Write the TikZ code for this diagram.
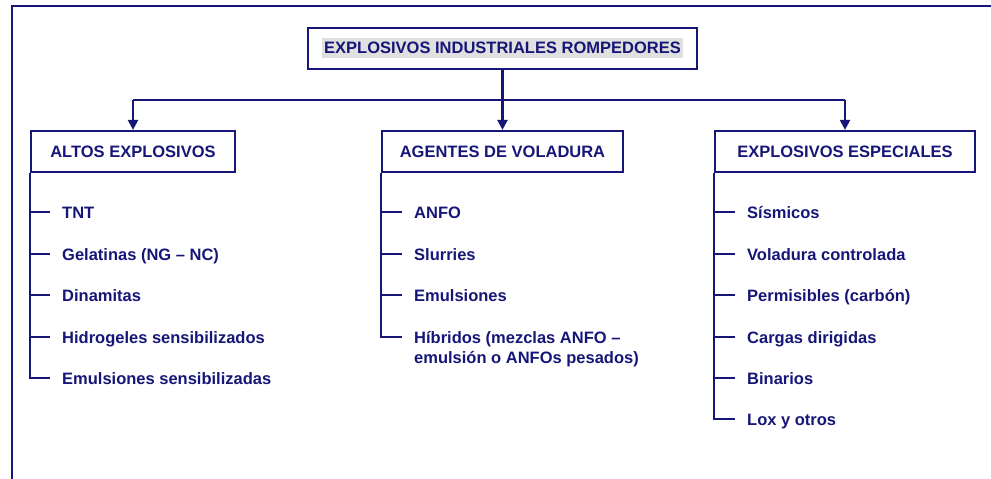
\documentclass[tikz,border=0pt]{standalone}
\usepackage{fontspec}
\setmainfont{Liberation Sans}
\usetikzlibrary{arrows.meta,calc}
\definecolor{navyc}{RGB}{22,22,120}
\definecolor{hlgray}{RGB}{224,224,224}
\begin{document}
\begin{tikzpicture}[x=1pt,y=-1pt,
  every node/.style={text=navyc,font=\fontsize{16.5}{20}\selectfont\bfseries},
  ln/.style={draw=navyc,line width=2.2pt},
  arr/.style={ln,-{Triangle[width=10pt,length=10pt]}},
  catbox/.style={draw=navyc,line width=2.2pt,minimum height=41pt,inner sep=0pt},
  item/.style={anchor=base west,inner sep=0pt}]
\useasboundingbox (0,0) rectangle (991,479);
% outer frame
\coordinate (ftl) at (12,6);
\draw[ln] (991,6) -- (ftl) -- (12,479);
% top box
\node[fill=hlgray,inner xsep=2pt,inner ysep=4pt] (toptext) at (502.5,48) {EXPLOSIVOS INDUSTRIALES ROMPEDORES};
\node[catbox,minimum width=389pt] (top) at (502.5,48.5) {};
% category boxes
\node[catbox,minimum width=204pt] (altos) at (133,151.5) {ALTOS EXPLOSIVOS};
\node[catbox,minimum width=241pt] (agentes) at (502.5,151.5) {AGENTES DE VOLADURA};
\node[catbox,minimum width=260pt] (esp) at (845,151.5) {EXPLOSIVOS ESPECIALES};
% bus
\coordinate (bus) at (502.5,100);
\draw[ln] (altos.north |- bus) -- (esp.north |- bus);
\draw[arr] (top.south) -- (agentes.north);
\draw[arr] (altos.north |- bus) -- (altos.north);
\draw[arr] (esp.north |- bus) -- (esp.north);
% left items
\node[item] (a1) at (62,218) {TNT};
\node[item] (a2) at (62,260) {Gelatinas (NG – NC)};
\node[item] (a3) at (62,301) {Dinamitas};
\node[item] (a4) at (62,343) {Hidrogeles sensibilizados};
\node[item] (a5) at (62,384) {Emulsiones sensibilizadas};
\draw[ln] (altos.south west) -- ($(altos.south west |- a5.base)+(0,-6)$) -- ($(a5.base west)+(-12,-6)$);
\foreach \n in {a1,a2,a3,a4}
  \draw[ln] ($(altos.south west |- \n.base)+(0,-6)$) -- ($(\n.base west)+(-12,-6)$);
% middle items
\node[item] (b1) at (414,218) {ANFO};
\node[item] (b2) at (414,260) {Slurries};
\node[item] (b3) at (414,301) {Emulsiones};
\node[item] (b4) at (414,343) {Híbridos (mezclas ANFO –};
\node[item] (b4b) at (414,363) {emulsión o ANFOs pesados)};
\draw[ln] (agentes.south west) -- ($(agentes.south west |- b4.base)+(0,-6)$) -- ($(b4.base west)+(-12,-6)$);
\foreach \n in {b1,b2,b3}
  \draw[ln] ($(agentes.south west |- \n.base)+(0,-6)$) -- ($(\n.base west)+(-12,-6)$);
% right items
\node[item] (c1) at (747,218) {Sísmicos};
\node[item] (c2) at (747,260) {Voladura controlada};
\node[item] (c3) at (747,301) {Permisibles (carbón)};
\node[item] (c4) at (747,343) {Cargas dirigidas};
\node[item] (c5) at (747,384) {Binarios};
\node[item] (c6) at (747,425) {Lox y otros};
\draw[ln] (esp.south west) -- ($(esp.south west |- c6.base)+(0,-6)$) -- ($(c6.base west)+(-12,-6)$);
\foreach \n in {c1,c2,c3,c4,c5}
  \draw[ln] ($(esp.south west |- \n.base)+(0,-6)$) -- ($(\n.base west)+(-12,-6)$);
\end{tikzpicture}
\end{document}
